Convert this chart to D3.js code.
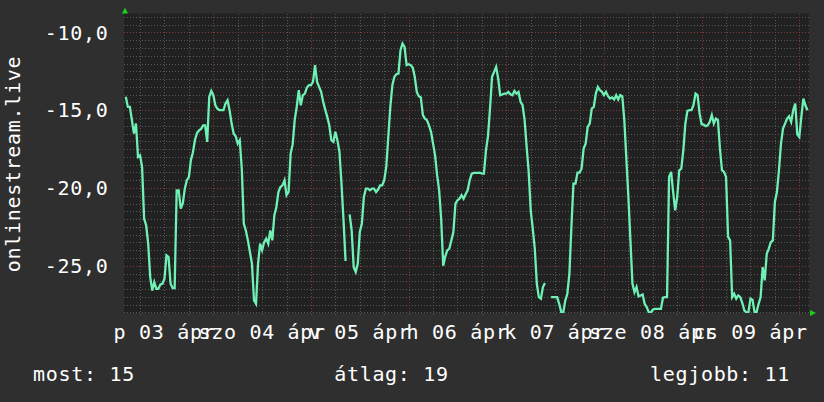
<!DOCTYPE html>
<html><head><meta charset="utf-8">
<script src="https://cdn.jsdelivr.net/npm/d3@7"></script>
<style>
html,body{margin:0;padding:0;background:#2f2f2f;}
svg{display:block;}
text{font-family:"DejaVu Sans Mono",monospace;fill:#ffffff;}
</style></head>
<body>
<svg id="chart" width="824" height="402"></svg>
<script>
// ---- data ----
const seriesName = "onlinestream.live";
const dataStart = new Date(2015, 3, 3, 2, 30);   // first sample
const stepMinutes = 30;
const values = [
-14.14,-14.79,-14.79,-15.64,-16.5,-15.86,-18.0,-17.9,-18.65,-21.97,
-22.4,-23.58,-25.73,-26.59,-26.05,-26.48,-26.48,-26.2,-26.16,-25.84,
-24.33,-24.44,-26.16,-26.44,-26.44,-20.15,-20.15,-21.33,-21.0,-20.04,
-19.5,-19.3,-18.2,-17.7,-16.9,-16.46,-16.3,-16.2,-15.97,-15.97,
-17.04,-14.14,-13.76,-14.03,-14.68,-14.9,-15.0,-15.0,-15.0,-14.57,
-14.36,-15.0,-15.86,-16.5,-16.67,-17.15,-16.93,-18.76,-22.3,-22.73,
-23.37,-24.12,-24.87,-27.23,-27.45,-24.87,-23.58,-24.0,-23.48,-23.26,
-23.58,-22.73,-23.37,-21.76,-21.22,-20.26,-19.94,-19.83,-19.5,-20.47,
-20.26,-17.79,-17.2,-15.64,-14.79,-13.71,-14.68,-14.03,-13.93,-13.54,
-13.39,-13.39,-13.18,-12.1,-13.18,-13.5,-13.82,-14.46,-14.96,-15.43,
-15.97,-16.93,-17.04,-16.39,-16.93,-17.68,-19.72,-22.08,-24.7,null,
-21.7,-22.73,-25.09,-25.41,-24.87,-22.83,-22.3,-20.58,-20.04,-20.04,
-20.15,-20.04,-20.04,-20.26,-20.1,-19.83,-19.83,-19.5,-18.65,-16.72,
-14.79,-13.39,-12.85,-12.68,-12.64,-11.14,-10.71,-10.92,-12.1,-12.04,
-12.1,-12.25,-12.85,-13.82,-14.1,-14.18,-15.32,-15.54,-15.64,-15.97,
-16.39,-17.15,-17.9,-19.18,-20.15,-22.0,-25.0,-24.4,-24.01,-23.9,
-23.37,-22.83,-21.0,-20.79,-20.69,-20.47,-20.69,-20.4,-20.15,-19.5,
-19.08,-19.03,-19.03,-19.03,-19.01,-19.08,-19.08,-17.58,-16.67,-14.89,
-12.85,-12.53,-12.21,-12.96,-14.03,-13.99,-13.93,-13.93,-13.82,-13.97,
-14.03,-13.76,-13.93,-13.82,-14.46,-14.68,-15.64,-17.36,-18.97,-21.44,
-22.62,-23.9,-26.16,-27.02,-27.12,-26.37,-26.12,null,null,-27.02,
-27.02,-27.02,-27.02,-27.45,-27.98,-28.0,-27.23,-26.8,-25.52,-22.51,
-19.72,-19.72,-19.01,-19.01,-18.76,-17.47,-17.15,-16.07,-15.86,-14.89,
-14.79,-13.93,-13.5,-13.71,-13.82,-14.03,-13.82,-14.1,-14.25,-14.18,
-14.31,-14.03,-14.31,-14.03,-14.1,-15.64,-18.11,-20.58,-23.37,-26.16,
-26.7,-26.37,-26.97,-26.91,-26.85,-27.45,-27.66,-27.98,-28.0,-27.83,
-27.77,-27.77,-27.77,-27.77,-27.06,-27.02,-27.02,-19.29,-18.97,-20.26,
-21.44,-20.58,-18.86,-18.76,-17.58,-15.86,-15.04,-15.0,-15.0,-14.68,
-13.93,-14.03,-15.21,-15.9,-15.92,-16.03,-15.97,-15.75,-15.32,-15.86,
-15.54,-15.64,-17.47,-18.86,-18.97,-19.29,-23.15,-23.37,-27.02,-26.8,
-27.12,-26.91,-27.02,-27.4,-27.88,-28.0,-27.98,-27.12,-27.19,-27.98,
-27.98,-27.45,-27.02,-25.09,-25.94,-24.23,-23.9,-23.48,-23.37,-20.9,
-20.26,-18.86,-17.15,-16.18,-15.86,-15.54,-15.39,-15.75,-15.0,-14.57,
-16.55,-16.72,-15.43,-14.25,-14.68,-15.0
];
const yTickValues = [-10, -15, -20, -25];
const legendLabels = ["most: 15", "átlag: 19", "legjobb: 11"];
const viewStart = new Date(2015, 3, 3, 2, 3, 20);
const viewEnd = new Date(2015, 3, 10, 2, 23, 0);

// ---- locale ----
const hu = d3.timeFormatLocale({
  dateTime: "%Y. %B %-e., %A %X", date: "%Y. %m. %d.", time: "%H:%M:%S",
  periods: ["de.", "du."],
  days: ["vasárnap","hétfő","kedd","szerda","csütörtök","péntek","szombat"],
  shortDays: ["v","h","k","sze","cs","p","szo"],
  months: ["január","február","március","április","május","június","július","augusztus","szeptember","október","november","december"],
  shortMonths: ["jan","feb","márc","ápr","máj","jún","júl","aug","szept","okt","nov","dec"]
});
const fmtDay = hu.format("%a %d %b");
const numLocale = d3.formatLocale({decimal: ",", thousands: " ", grouping: [3], currency: ["", " Ft"], minus: "-"});
const fmtY = numLocale.format(".1f");

// ---- layout ----
const W = 824, H = 402;
const L = 124, R = 809, T = 13.5, B = 313;
const svg = d3.select("#chart");
svg.append("rect").attr("width", W).attr("height", H).attr("fill", "#2f2f2f");
svg.append("rect").attr("x", L).attr("y", T).attr("width", R - L).attr("height", B - T).attr("fill", "#212121");

const x = d3.scaleTime().domain([viewStart, viewEnd]).range([L, R]);
const y = d3.scaleLinear().domain([-28.04, -8.78]).range([B, T]);

const data = values.map((v, i) => ({t: new Date(dataStart.getTime() + i * stepMinutes * 60000), v}));

// grid
const g = svg.append("g").attr("shape-rendering", "crispEdges");
const minorY = d3.range(-28, -8.9, 0.5).filter(v => !yTickValues.includes(v));
g.selectAll(".hmin").data(minorY).join("line")
  .attr("x1", L).attr("x2", R + 2)
  .attr("y1", d => Math.round(y(d)) + 0.5).attr("y2", d => Math.round(y(d)) + 0.5)
  .attr("stroke", "#585858").attr("stroke-dasharray", "1,2");
const sixH = x.ticks(d3.timeHour.every(6)).filter(d => d.getHours() !== 0);
g.selectAll(".vmin").data(sixH).join("line")
  .attr("y1", T).attr("y2", B + 2)
  .attr("x1", d => Math.round(x(d)) + 0.5).attr("x2", d => Math.round(x(d)) + 0.5)
  .attr("stroke", "#585858").attr("stroke-dasharray", "1,2");
g.selectAll(".hmaj").data(yTickValues).join("line")
  .attr("x1", L).attr("x2", R + 2)
  .attr("y1", d => Math.round(y(d)) + 0.5).attr("y2", d => Math.round(y(d)) + 0.5)
  .attr("stroke", "#843838").attr("stroke-dasharray", "1,2");
const days = x.ticks(d3.timeDay.every(1));
g.selectAll(".vmaj").data(days).join("line")
  .attr("y1", T).attr("y2", B + 2)
  .attr("x1", d => Math.round(x(d)) + 0.5).attr("x2", d => Math.round(x(d)) + 0.5)
  .attr("stroke", "#843838").attr("stroke-dasharray", "1,2");

// line
svg.append("clipPath").attr("id", "clip").append("rect")
  .attr("x", L).attr("y", T - 2).attr("width", R - L).attr("height", B - T + 2);
const line = d3.line().defined(d => d.v !== null).x(d => x(d.t)).y(d => y(d.v));
svg.append("path").datum(data).attr("clip-path", "url(#clip)")
  .attr("d", line).attr("fill", "none").attr("stroke", "#6ff0b4")
  .attr("stroke-width", 2.3).attr("stroke-linejoin", "miter");

// arrows
svg.append("path").attr("d", `M${L-2},${T} L${L+1},${T-6} L${L+4},${T} Z`).attr("fill", "#1dd11d");
svg.append("path").attr("d", `M${R+1},${B-3} L${R+7},${B} L${R+1},${B+3} Z`).attr("fill", "#1dd11d");

// y labels
svg.append("g").selectAll("text").data(yTickValues).join("text")
  .attr("x", 108.5).attr("y", d => y(d)).attr("dy", "0.36em")
  .attr("text-anchor", "end").attr("font-size", 20).attr("letter-spacing", 0.7)
  .text(d => fmtY(d));

// x labels at noon
const labelDays = d3.timeDay.range(d3.timeDay.floor(viewStart), d3.timeDay.floor(viewEnd));
svg.append("g").selectAll("text").data(labelDays).join("text")
  .attr("x", d => x(d3.timeHour.offset(d, 12))).attr("y", 339)
  .attr("text-anchor", "middle").attr("font-size", 20).attr("letter-spacing", 0.7)
  .text(d => fmtDay(d));

// axis title
svg.append("text").attr("transform", "translate(20,164) rotate(-90)")
  .attr("text-anchor", "middle").attr("font-size", 20).attr("letter-spacing", 0.7)
  .text(seriesName);

// legend
const legendX = [84, 391.5, 720];
svg.append("g").selectAll("text").data(legendLabels).join("text")
  .attr("x", (d, i) => legendX[i]).attr("y", 381)
  .attr("text-anchor", "middle").attr("font-size", 20).attr("letter-spacing", 0.7)
  .text(d => d);
</script>
</body></html>
